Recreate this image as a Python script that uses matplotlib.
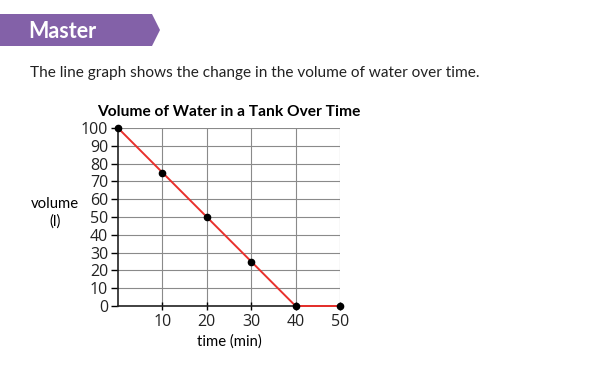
import matplotlib.pyplot as plt
from matplotlib.patches import Polygon

# data
time_min = [0, 10, 20, 30, 40, 50]
volume_l = [100, 75, 50, 25, 0, 0]
x_ticks = [10, 20, 30, 40, 50]
y_ticks = list(range(0, 101, 10))

plt.rcParams['font.family'] = ['Lato', 'DejaVu Sans']

fig = plt.figure(figsize=(6.01, 3.66), dpi=100)

# purple "Master" banner
banner = Polygon([(0, 1 - 14/366), (152/601, 1 - 14/366), (160/601, 1 - 30/366),
                  (152/601, 1 - 46/366), (0, 1 - 46/366)],
                 closed=True, transform=fig.transFigure, color='#8361a8', lw=0)
fig.patches.append(banner)
fig.text(28/601, 1 - 31/366, "Master", color='white', fontsize=15.5,
         fontweight='bold', va='center', ha='left')

fig.text(30/601, 1 - 73/366, "The line graph shows the change in the volume of water over time.",
         fontsize=11.1, va='center', ha='left', color='#222222')

ax = fig.add_axes([118/601, 1 - 306/366, 222/601, 178/366])
ax.plot(time_min, volume_l, color='#e8302c', lw=1.4, zorder=3, clip_on=False)
ax.plot(time_min, volume_l, 'o', color='black', ms=4.5, zorder=4, clip_on=False)

ax.set_xlim(0, 50)
ax.set_ylim(0, 100)
ax.set_xticks(x_ticks)
ax.set_yticks(y_ticks)
ax.grid(True, color='#8a8a8a', lw=0.8)
ax.set_axisbelow(True)
for s in ['top', 'right']:
    ax.spines[s].set_visible(False)
for s in ['left', 'bottom']:
    ax.spines[s].set_color('#222222')
    ax.spines[s].set_linewidth(1.2)
ax.tick_params(axis='y', direction='out', length=5, width=1, pad=2)
ax.tick_params(axis='x', direction='inout', length=6, width=1, pad=3)
for lbl in ax.get_xticklabels() + ax.get_yticklabels():
    lbl.set_color('#222222')
    lbl.set_fontfamily('Open Sans')
    lbl.set_fontsize(11.5)

ax.set_title("Volume of Water in a Tank Over Time", fontsize=11.2, fontweight='bold', pad=9)
ax.set_xlabel("time (min)", fontsize=10.7, labelpad=3)
fig.text(55/601, 1 - 213/366, "volume\n(l)", fontsize=10.7, ha='center', va='center',
         linespacing=1.3)

fig.savefig('out.png', dpi=100)
